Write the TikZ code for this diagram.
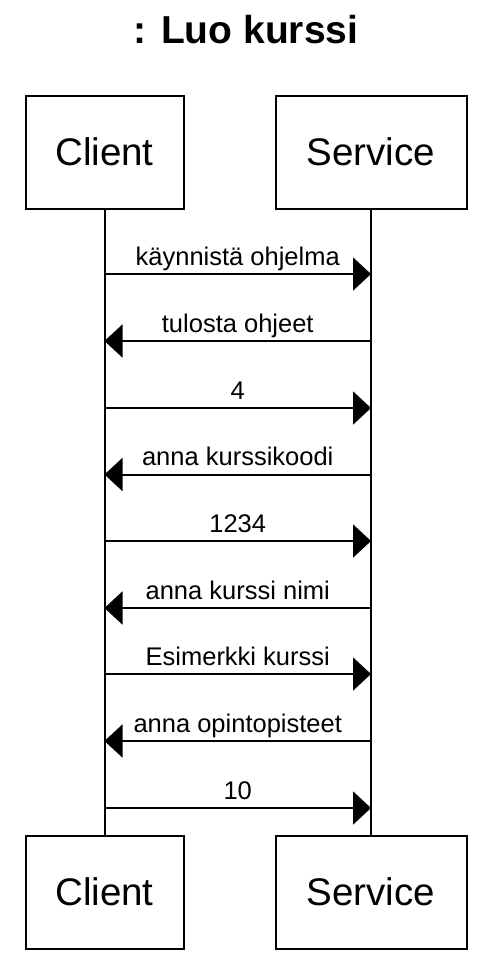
\documentclass[tikz,border=0pt]{standalone}
\usepackage{fontspec}
\setmainfont{Liberation Sans}
\usetikzlibrary{arrows.meta}
\begin{document}
\begin{tikzpicture}[x=1pt,y=-1pt,
  party/.style={draw, line width=2pt, inner sep=0pt, minimum height=113pt,
    font=\fontsize{38.5}{44}\selectfont},
  lifeline/.style={line width=2pt},
  msg/.style={line width=2pt, -{Triangle[length=18pt,width=33pt]}},
  lbl/.style={midway, anchor=base, yshift=9pt, inner sep=0pt,
    font=\fontsize{25.5}{30}\selectfont}]
\useasboundingbox (0,0) rectangle (490,962);
\node[font=\bfseries\fontsize{39}{46}\selectfont, anchor=base, inner sep=0pt] (title) at (246,43) {: Luo kurssi};
\node[party, minimum width=158pt] (cT) at (104.5,152) {Client};
\node[party, minimum width=191pt] (sT) at (371,152) {Service};
\node[party, minimum width=158pt] (cB) at (104.5,892) {Client};
\node[party, minimum width=191pt] (sB) at (371,892) {Service};
\draw[lifeline] (cT.south) -- (cB.north);
\draw[lifeline] (sT.south) -- (sB.north);
\foreach \i/\y in {1/274,2/341,3/408,4/474.5,5/541,6/608,7/674,8/741,9/808}{
  \coordinate (c\i) at (104.5,\y);
  \coordinate (s\i) at (371,\y);
}
\draw[msg] (c1) -- node[lbl]{käynnistä ohjelma} (s1);
\draw[msg] (s2) -- node[lbl]{tulosta ohjeet} (c2);
\draw[msg] (c3) -- node[lbl]{4} (s3);
\draw[msg] (s4) -- node[lbl]{anna kurssikoodi} (c4);
\draw[msg] (c5) -- node[lbl]{1234} (s5);
\draw[msg] (s6) -- node[lbl]{anna kurssi nimi} (c6);
\draw[msg] (c7) -- node[lbl]{Esimerkki kurssi} (s7);
\draw[msg] (s8) -- node[lbl]{anna opintopisteet} (c8);
\draw[msg] (c9) -- node[lbl]{10} (s9);
\end{tikzpicture}
\end{document}
